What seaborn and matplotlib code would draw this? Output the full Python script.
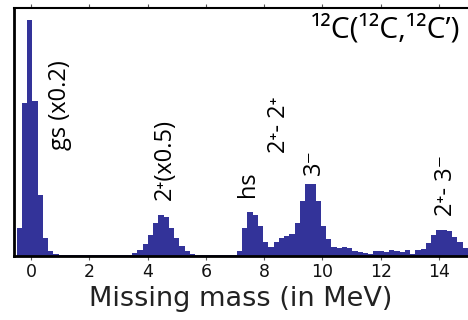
import numpy as np
import pandas as pd
import matplotlib
matplotlib.use("Agg")
import matplotlib.pyplot as plt
import seaborn as sns

# ---- data (counts per bin, arbitrary units) ----
bin_start = -0.49      # MeV, left edge of first bin
bin_width = 0.18       # MeV
counts = [
    28, 153, 236, 155, 61, 18, 5, 2, 1.5, 1.5,          # 0-9  (gs)
    1.5, 1.5, 1.5, 1.5, 1.5, 1.5, 1.5, 1.5, 1.5, 1.5,   # 10-19
    1.5, 1.5, 3, 6, 12, 21, 33, 41, 39, 28,             # 20-29 (2+)
    18, 10, 5, 2.5, 1.5, 1, 1, 1, 1, 1,                 # 30-39
    1, 1, 5, 28, 44, 41, 30, 14, 9, 14,                 # 40-49 (hs)
    18, 20, 22, 33, 55, 72, 72, 55, 30, 17,             # 50-59 (3-)
    9, 8, 9, 8, 5, 4, 3, 2, 5, 5,                       # 60-69
    4, 6, 5, 4, 6, 2, 6, 7, 13, 21,                     # 70-79
    26, 26, 25, 19, 14, 8,                              # 80-85
]
x_ticks = [0, 2, 4, 6, 8, 10, 12, 14]
x_label = "Missing mass (in MeV)"
title = "¹²C(¹²C,¹²C’)"
annotations = ["gs (x0.2)", "2⁺(x0.5)", "hs", "2⁺- 2⁺", "3⁻", "2⁺- 3⁻"]
annot_x = [1.01, 4.6, 7.45, 8.5, 9.71, 14.24]    # MeV
annot_y = [151, 97, 71.5, 131, 94, 71]            # counts units

n = len(counts)
edges = bin_start + bin_width * np.arange(n + 1)
centers = (edges[:-1] + edges[1:]) / 2
df = pd.DataFrame({"energy": centers, "count": counts})

sns.set_theme(style="white")
plt.rcParams["font.family"] = ["Open Sans", "DejaVu Sans"]

fig = plt.figure(figsize=(4.68, 3.2), dpi=100)
ax = fig.add_axes([14 / 468, 64 / 320, 454 / 468, 248 / 320])

color = "#333399"
sns.histplot(data=df, x="energy", weights="count", bins=list(edges),
             element="step", fill=True, color=color, alpha=1,
             linewidth=0, ax=ax)

ax.set_xlim(-0.583, 14.997)
ax.set_ylim(0, 248)
ax.set_xticks(x_ticks)
ax.set_xticklabels([str(t) for t in x_ticks], family=["DejaVu Sans"])
ax.set_yticks([])
ax.set_ylabel("")
ax.set_xlabel(x_label, fontsize=19.5, color="#222222", labelpad=4,
              family=["DejaVu Sans"])
ax.tick_params(axis="x", which="both", direction="out", length=3, width=0.8,
               color="#555555", top=True, bottom=True, labelsize=12.5,
               labelcolor="#111111", pad=2)

for side in ["left", "bottom"]:
    ax.spines[side].set_linewidth(2)
    ax.spines[side].set_color("black")
ax.spines["top"].set_linewidth(1.5)
ax.spines["top"].set_color("black")
ax.spines["right"].set_visible(False)

for txt, xv, yv in zip(annotations, annot_x, annot_y):
    ax.text(xv, yv, txt, rotation=90, ha="center", va="center",
            fontsize=17, color="black")

ax.text(14.72, 226, title, ha="right", va="center", fontsize=21.5, color="black")

fig.savefig("out.png", dpi=100)
